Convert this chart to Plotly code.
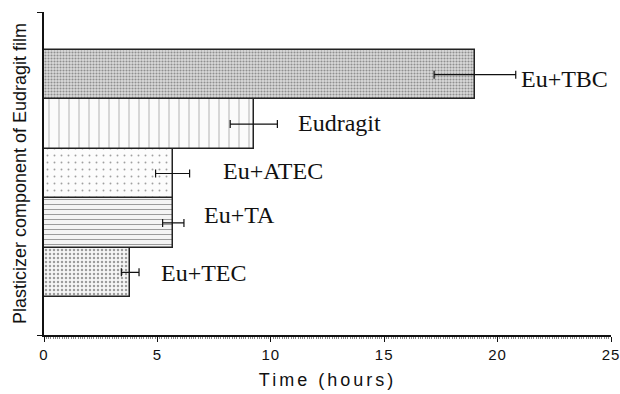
import plotly.graph_objects as go

# Data (bottom to top)
categories = ["Eu+TEC", "Eu+TA", "Eu+ATEC", "Eudragit", "Eu+TBC"]
times = [3.8, 5.7, 5.67, 9.25, 19.0]
errors = [0.39, 0.47, 0.75, 1.04, 1.8]
x_ticks = [0, 5, 10, 15, 20, 25]

# styles
label_offsets = [0.9, 0.8, 1.4, 0.8, 0.15]
label_yshift = [-1, 8, 3, 1, -4]
pattern_shapes = [".", "-", ".", "|", "."]
pattern_fg = ["#a8a8a8", "#b4b4b4", "#b8b8b8", "#c0c0c0", "#9a9a9a"]
pattern_bg = ["#f6f6f6", "#f4f4f4", "#fcfcfc", "#fbfbfb", "#dadada"]
pattern_size = [4, 5, 7, 10, 3]
pattern_sol = [0.3, 0.2, 0.06, 0.08, 0.4]

ypos = list(range(len(categories)))

fig = go.Figure()
fig.add_trace(go.Bar(
    x=times, y=ypos, orientation="h",
    marker=dict(
        color=pattern_bg,
        line=dict(color="#222222", width=1.5),
        pattern=dict(shape=pattern_shapes, fgcolor=pattern_fg, bgcolor=pattern_bg,
                     size=pattern_size, solidity=pattern_sol, fillmode="overlay"),
    ),
    error_x=dict(type="data", array=errors, visible=True, color="#111111",
                 thickness=1.2, width=4),
    width=1.0,
    showlegend=False,
    hoverinfo="skip",
))

for i, c in enumerate(categories):
    fig.add_annotation(
        x=times[i] + errors[i] + label_offsets[i], y=ypos[i],
        text=c, showarrow=False, xanchor="left", yanchor="middle",
        yshift=label_yshift[i],
        font=dict(family="Liberation Serif", size=24, color="#111111"),
    )

ylo, yhi = -1.27, len(categories) - 1 + 1.27

fig.update_layout(
    width=620, height=394,
    margin=dict(l=44, r=9, t=12, b=59),
    paper_bgcolor="white", plot_bgcolor="white",
    bargap=0,
    xaxis=dict(
        range=[0, 25], tickvals=x_ticks, ticktext=[str(t) for t in x_ticks],
        automargin=False,
        showline=True, linecolor="#111111", linewidth=1.5,
        ticks="outside", ticklen=5, tickcolor="#111111", tickwidth=1.2,
        minor=dict(dtick=0.1, ticks="outside", ticklen=2, tickcolor="#888888", tickwidth=1),
        showgrid=False, zeroline=False,
        tickfont=dict(family="Liberation Sans", size=15, color="#111111"),
        title=dict(text="Time (hours)", standoff=12,
                   font=dict(family="Liberation Sans", size=18, color="#111111")),
    ),
    yaxis=dict(
        range=[ylo, yhi], tickvals=[ylo, yhi], ticktext=["", ""],
        automargin=False,
        showline=True, linecolor="#111111", linewidth=1.5,
        ticks="outside", ticklen=5, tickcolor="#111111",
        showgrid=False, zeroline=False,
        title=dict(text="Plasticizer component of Eudragit film", standoff=4,
                   font=dict(family="Liberation Sans", size=18, color="#111111")),
    ),
)

post = """
document.body.style.margin = '0';
document.body.style.padding = '0';
function sp(){
  document.querySelectorAll('.xtitle').forEach(function(e){e.style.letterSpacing='3px';});
  document.querySelectorAll('.xtick text').forEach(function(e){e.style.letterSpacing='1px';});
}
sp(); setTimeout(sp, 50); setTimeout(sp, 300);
"""
fig.write_html("out.html", post_script=post, config={"displayModeBar": False})
